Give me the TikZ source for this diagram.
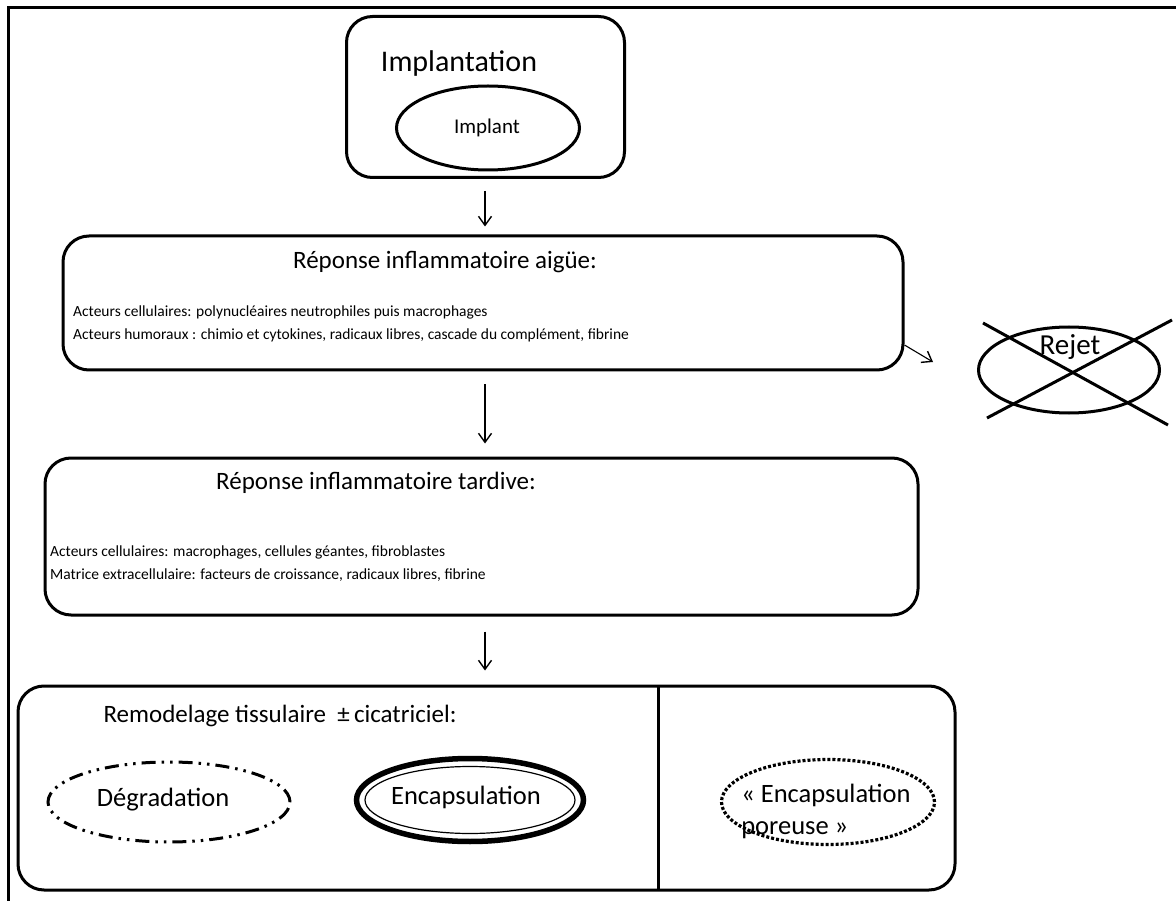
\documentclass[tikz,border=0pt]{standalone}
\usepackage{fontspec}
\setmainfont{Carlito}
\usetikzlibrary{arrows.meta,shapes.geometric,calc}
\tikzset{
  box/.style={draw, line width=3pt, rounded corners=26pt, inner sep=0pt},
  oval/.style={draw, ellipse, line width=3pt, inner sep=0pt},
  arr/.style={line width=1.4pt, -{Straight Barb[length=9pt,width=13pt,line width=1.4pt]}},
  ttl/.style={font=\fontsize{25}{30}\selectfont, inner sep=0pt},
  big/.style={font=\fontsize{30}{36}\selectfont, inner sep=0pt},
  small/.style={font=\fontsize{15.5}{19}\selectfont, inner sep=0pt, anchor=base west},
  mid/.style={font=\fontsize{26.5}{32}\selectfont, inner sep=0pt},
  frame/.style={line width=3pt},
}
\begin{document}
\begin{tikzpicture}[x=1pt,y=-1pt]
\useasboundingbox (0,0) rectangle (1176,901);
% outer frame
\draw[frame] (8,901) -- (8,8) -- (1176,8);
% Implantation
\node[box, minimum width=278pt, minimum height=161pt] (impl) at (485.5,97) {};
\node[big] (implT) at (459,64) {Implantation};
\node[oval, minimum width=183pt, minimum height=84pt] (implant) at (488,128) {};
\node[font=\fontsize{21}{24}\selectfont, inner sep=0pt] (implantT) at (487,128) {Implant};
% Box 2
\node[box, minimum width=840pt, minimum height=134pt] (aigue) at (483,303) {};
\node[ttl] (aigueT) at (445,262) {Réponse inflammatoire aigüe:};
\node[small] (aigueA) at (73,317) {Acteurs cellulaires: polynucléaires neutrophiles puis macrophages};
\node[small] (aigueB) at (73,340) {Acteurs humoraux : chimio et cytokines, radicaux libres, cascade du complément, fibrine};
% Rejet
\node[oval, minimum width=181pt, minimum height=86pt] (rejet) at (1069,370) {};
\node[big, font=\fontsize{29}{34}\selectfont] (rejetT) at (1070,347) {Rejet};
\coordinate (x1a) at (983,323); \coordinate (x1b) at (1168,425);
\coordinate (x2a) at (987,418); \coordinate (x2b) at (1172,320);
\draw[frame] (x1a) -- (x1b);
\draw[frame] (x2a) -- (x2b);
\coordinate (rejArr) at (933,362);
\draw[arr, line width=1.1pt] ([yshift=-42pt]aigue.east) -- (rejArr);
% Box 3
\node[box, minimum width=873pt, minimum height=157pt] (tardive) at (481.5,536.5) {};
\node[ttl] (tardiveT) at (376,483) {Réponse inflammatoire tardive:};
\node[small] (tardiveA) at (50,556) {Acteurs cellulaires: macrophages, cellules géantes, fibroblastes};
\node[small] (tardiveB) at (50,579) {Matrice extracellulaire: facteurs de croissance, radicaux libres, fibrine};
% Box 4
\node[box, minimum width=937pt, minimum height=204pt] (remod) at (486.5,788) {};
\coordinate (divT) at (658,686); \coordinate (divB) at (658,890);
\draw[frame] (divT) -- (divB);
\node[ttl] (remodT) at (280,716) {Remodelage tissulaire \ ±\,cicatriciel:};
\node[draw, ellipse, line width=3pt, minimum width=242pt, minimum height=80pt,
      dash pattern=on 14pt off 6pt on 2.5pt off 6pt on 2.5pt off 6pt] (degr) at (169,802) {};
\node[mid] (degrT) at (163,800) {Dégradation};
\node[draw, ellipse, line width=5.5pt, minimum width=227pt, minimum height=83pt] (encap) at (470,800) {};
\node[draw, ellipse, line width=1.2pt, minimum width=210pt, minimum height=67pt] (encapIn) at (470,800) {};
\node[mid] (encapT) at (466,797) {Encapsulation};
\node[draw, ellipse, line width=3.2pt, minimum width=213pt, minimum height=85pt,
      dash pattern=on 3pt off 2pt] (por) at (828,802) {};
\node[mid, align=left, font=\fontsize{26.5}{32}\selectfont] (porT) at (826,811) {« Encapsulation\\poreuse »};
% arrows
\draw[arr] ([yshift=-12pt]impl.south -| 485,0) -- ([yshift=8pt]aigue.north -| 485,0);
\draw[arr] ([yshift=-13pt]aigue.south -| 485,0) -- ([yshift=13pt]tardive.north -| 485,0);
\draw[arr] ([yshift=-15pt]tardive.south -| 485,0) -- ([yshift=14pt]remod.north -| 485,0);
\end{tikzpicture}
\end{document}
